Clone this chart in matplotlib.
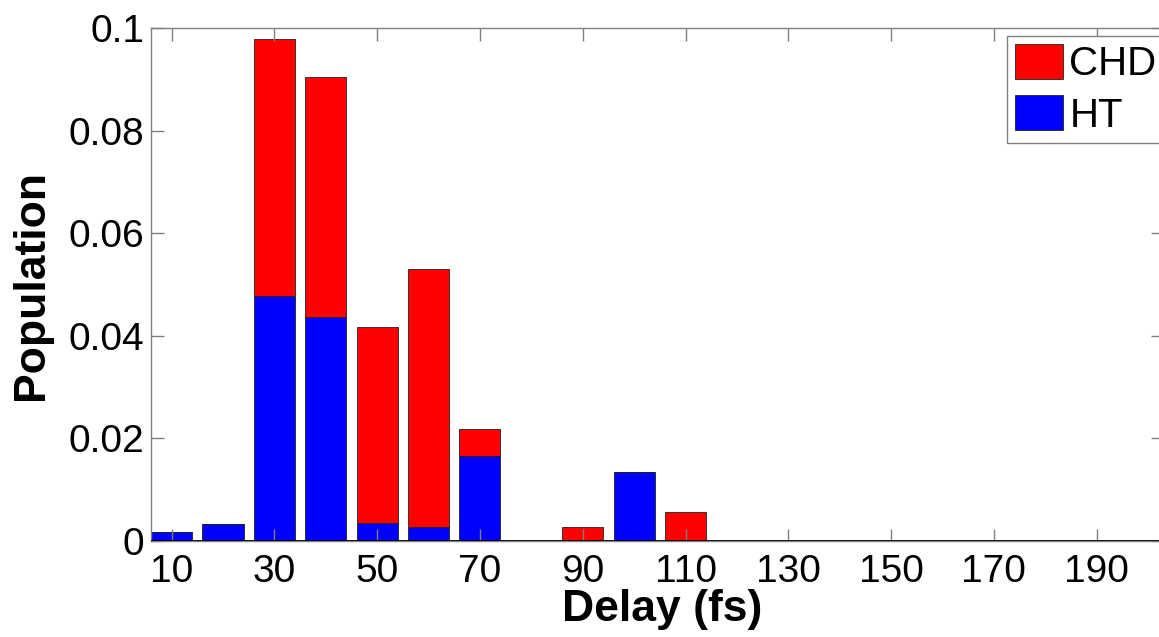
import matplotlib
matplotlib.use("Agg")
import matplotlib.pyplot as plt
from matplotlib.ticker import FormatStrFormatter

plt.rcParams['font.family'] = ['Liberation Sans', 'DejaVu Sans']

# delay bins (fs) and populations
delay = [10, 20, 30, 40, 50, 60, 70, 80, 90, 100, 110, 120, 130, 140, 150, 160, 170, 180, 190, 200]
ht = [0.0017, 0.0034, 0.0478, 0.0437, 0.0035, 0.0027, 0.0166, 0, 0, 0.0134, 0,
      0, 0, 0, 0, 0, 0, 0, 0, 0]
chd = [0, 0, 0.0501, 0.0467, 0.0383, 0.0504, 0.0052, 0, 0.0027, 0, 0.0057,
       0, 0, 0, 0, 0, 0, 0, 0, 0]

xticks = [10, 30, 50, 70, 90, 110, 130, 150, 170, 190]
yticks = [0, 0.02, 0.04, 0.06, 0.08, 0.1]

fig = plt.figure(figsize=(11.59, 6.37), dpi=100)
# axes runs slightly past the right edge of the picture, as in the original crop
ax = fig.add_axes([151/1159, 1 - 541/637, 1012/1159, 513/637])

# stacked bars, HT at the bottom
ax.bar(delay, ht, width=8, color='#0000ff', edgecolor='#202020', linewidth=0.6, label='HT')
ax.bar(delay, chd, width=8, bottom=ht, color='#ff0000', edgecolor='#202020', linewidth=0.6, label='CHD')
ax.axhline(0, color='k', linewidth=2, zorder=5)

ax.set_xlim(6, 202.9)
ax.set_ylim(0, 0.1)
ax.set_xticks(xticks)
ax.set_yticks(yticks)
ax.yaxis.set_major_formatter(FormatStrFormatter('%g'))

for s in ax.spines.values():
    s.set_color('#808080')
    s.set_linewidth(1)

ax.tick_params(direction='in', length=9, width=1, color='#808080',
               top=True, right=True, labelsize=28)
ax.tick_params(axis='x', pad=9)
ax.tick_params(axis='y', pad=5)

ax.set_xlabel('Delay (fs)', fontsize=32, fontweight='bold')
ax.xaxis.set_label_coords((662 - 151) / 1012, -0.094)
ax.set_ylabel('Population', fontsize=32, fontweight='bold', labelpad=12)

handles, labels = ax.get_legend_handles_labels()
leg = ax.legend(handles[::-1], labels[::-1], loc='upper left',
                bbox_to_anchor=(1007/1159, 1 - 36/637), bbox_transform=fig.transFigure,
                borderaxespad=0, fontsize=29, fancybox=False, framealpha=1,
                edgecolor='#808080', handlelength=1.2, handleheight=0.95,
                handletextpad=0.15, labelspacing=0.3, borderpad=0.2)
leg.get_frame().set_linewidth(1)

fig.savefig('out.png', dpi=100)
